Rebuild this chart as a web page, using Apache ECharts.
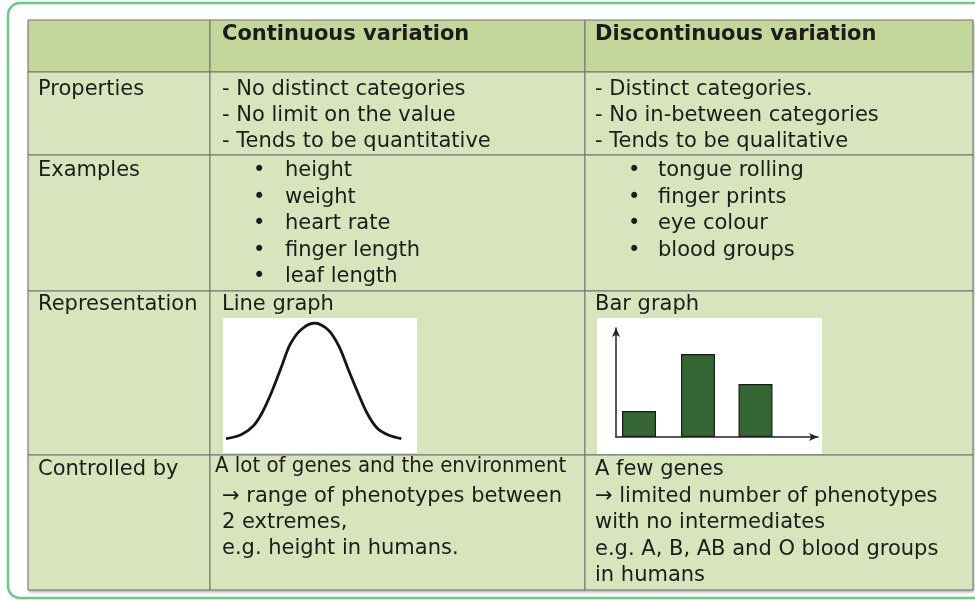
<!DOCTYPE html>
<html>
<head>
<meta charset="utf-8">
<script src="https://cdn.jsdelivr.net/npm/echarts@6/dist/echarts.min.js"></script>
<style>
  html, body { margin: 0; padding: 0; background: #fff; }
  #main { width: 975px; height: 600px; }
</style>
</head>
<body>
<div id="main"></div>
<script>
// table text
var headers = ['', 'Continuous variation', 'Discontinuous variation'];
var rowLabels = ['Properties', 'Examples', 'Representation', 'Controlled by'];
var contProps = ['- No distinct categories', '- No limit on the value', '- Tends to be quantitative'];
var discProps = ['- Distinct categories.', '- No in-between categories', '- Tends to be qualitative'];
var contExamples = ['height', 'weight', 'heart rate', 'finger length', 'leaf length'];
var discExamples = ['tongue rolling', 'finger prints', 'eye colour', 'blood groups'];
var reprNames = ['Line graph', 'Bar graph'];
var contControl = ['A lot of genes and the environment', '\u2192 range of phenotypes between', '2 extremes,', 'e.g. height in humans.'];
var discControl = ['A few genes', '\u2192 limited number of phenotypes', 'with no intermediates', 'e.g. A, B, AB and O blood groups', 'in humans'];

// bell curve
var curveX = [0, 15, 27, 36, 46, 55, 64, 75, 88.7, 102, 113, 123, 132, 141, 151, 163, 175.3];
var curveY = [4.3, 8.3, 16.7, 30, 51.7, 75, 98.3, 113.3, 120, 113.3, 96.7, 71.7, 50, 30, 15, 7.7, 4.3];

// small bar graph: bar position along the axis and height
var barX = [23, 82, 139.5];
var barValues = [26, 83, 53];

var chart = echarts.init(document.getElementById('main'));

// layout of the table
var colX = [28, 210, 585, 973];
var rowY = [20, 72, 155, 291, 455, 590];
var FONT = '21px "DejaVu Sans", Verdana, sans-serif';
var BOLD = 'bold 21px "DejaVu Sans", Verdana, sans-serif';
var NARROW = '22px "Liberation Sans Narrow", "DejaVu Sans Condensed", sans-serif';
var INK = '#1c1c1c';

function txt(s, x, y, font) {
    return {
        type: 'text', x: x, y: y, z: 2,
        style: { text: s, fill: INK, font: font || FONT, align: 'left', verticalAlign: 'middle' }
    };
}

var g = [];
// outer rounded green frame
g.push({
    type: 'rect', z: 0,
    shape: { x: 8, y: 3, width: 990, height: 595, r: 12 },
    style: { fill: '#fff', stroke: '#66cc84', lineWidth: 2.5 }
});
// table shadow
g.push({
    type: 'rect', z: 0,
    shape: { x: colX[0], y: rowY[0], width: colX[3] - colX[0], height: rowY[5] - rowY[0] },
    style: { fill: '#d8e4bc', shadowBlur: 3, shadowOffsetX: 1, shadowOffsetY: 2, shadowColor: 'rgba(0,0,0,0.35)' }
});
// cells
for (var r = 0; r < rowY.length - 1; r++) {
    for (var c = 0; c < colX.length - 1; c++) {
        g.push({
            type: 'rect', z: 1,
            shape: { x: colX[c], y: rowY[r], width: colX[c + 1] - colX[c], height: rowY[r + 1] - rowY[r] },
            style: { fill: r === 0 ? '#c4d79b' : '#d8e4bc', stroke: '#6f6f6f', lineWidth: 1 }
        });
    }
}
// white boxes behind the little graphs
g.push({ type: 'rect', z: 1, shape: { x: 223, y: 318, width: 194, height: 135 }, style: { fill: '#fff' } });
g.push({ type: 'rect', z: 1, shape: { x: 597, y: 318, width: 225, height: 136 }, style: { fill: '#fff' } });

// header
g.push(txt(headers[1], 222, 35, BOLD));
g.push(txt(headers[2], 595, 35, BOLD));
// row labels
g.push(txt(rowLabels[0], 38, 90));
g.push(txt(rowLabels[1], 38, 171));
g.push(txt(rowLabels[2], 38, 305));
g.push(txt(rowLabels[3], 38, 470));
// properties
contProps.forEach(function (s, i) { g.push(txt(s, 222, 90 + i * 26)); });
discProps.forEach(function (s, i) { g.push(txt(s, 595, 90 + i * 26)); });
// examples
contExamples.forEach(function (s, i) {
    g.push(txt('\u2022', 253, 171 + i * 26.5));
    g.push(txt(s, 285, 171 + i * 26.5));
});
discExamples.forEach(function (s, i) {
    g.push(txt('\u2022', 628, 171 + i * 26.5));
    g.push(txt(s, 658, 171 + i * 26.5));
});
// representation
g.push(txt(reprNames[0], 222, 305));
g.push(txt(reprNames[1], 595, 305));
// controlled by
var contCY = [466, 497, 523, 549];
contControl.forEach(function (s, i) {
    g.push(txt(s, i === 0 ? 215 : 222, contCY[i], i === 0 ? NARROW : FONT));
});
discControl.forEach(function (s, i) { g.push(txt(s, 595, 470 + i * 26.5)); });

var hidden = { show: false };

var option = {
    backgroundColor: '#fff',
    animation: false,
    graphic: { elements: g },
    grid: [
        { left: 226, top: 323, width: 176, height: 120 },
        { left: 616, top: 328, width: 202, height: 109 }
    ],
    xAxis: [
        { gridIndex: 0, type: 'value', min: 0, max: 176, show: false },
        {
            gridIndex: 1, type: 'value', min: 0, max: 202, z: 10,
            axisLine: { show: true, symbol: ['none', 'arrow'], symbolSize: [6, 9], lineStyle: { color: '#222', width: 1.5 } },
            axisTick: hidden, axisLabel: hidden, splitLine: hidden
        }
    ],
    yAxis: [
        { gridIndex: 0, type: 'value', min: 0, max: 120, show: false },
        {
            gridIndex: 1, type: 'value', min: 0, max: 109, z: 10,
            axisLine: { show: true, symbol: ['none', 'arrow'], symbolSize: [6, 9], lineStyle: { color: '#222', width: 1.5 } },
            axisTick: hidden, axisLabel: hidden, splitLine: hidden
        }
    ],
    series: [
        {
            type: 'line', xAxisIndex: 0, yAxisIndex: 0, z: 10,
            smooth: 0.3, showSymbol: false,
            lineStyle: { color: '#151515', width: 2.8 },
            data: curveX.map(function (x, i) { return [x, curveY[i]]; })
        },
        {
            type: 'bar', xAxisIndex: 1, yAxisIndex: 1, z: 9,
            barWidth: 34,
            itemStyle: { color: '#336633', borderColor: '#1a1a1a', borderWidth: 1.2 },
            data: barX.map(function (x, i) { return [x, barValues[i]]; })
        }
    ]
};
chart.setOption(option);
</script>
</body>
</html>
